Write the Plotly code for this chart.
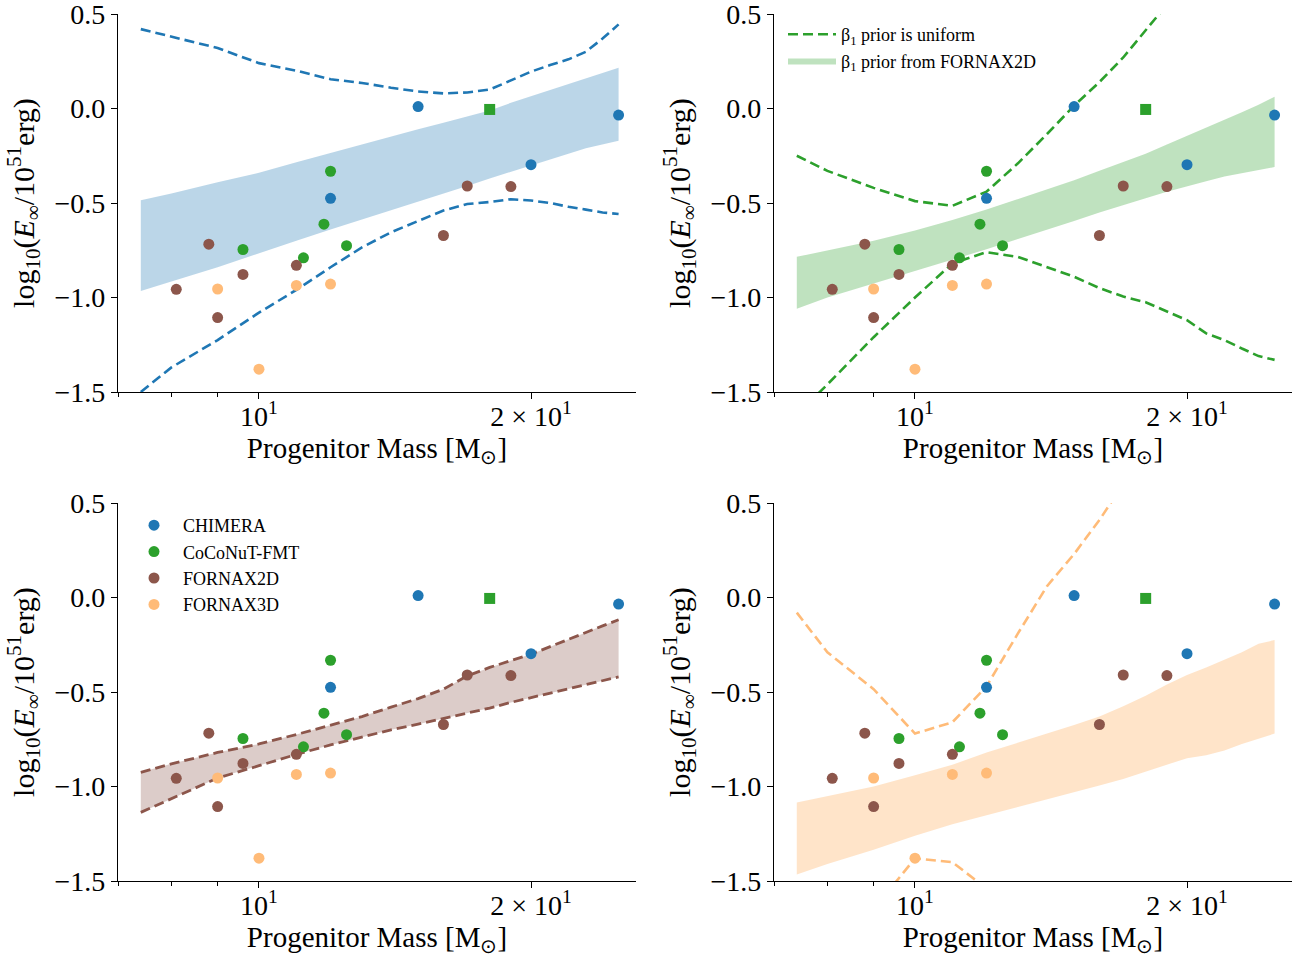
import plotly.graph_objects as go
from plotly.subplots import make_subplots

# ---------------- data ----------------
grid_mass = [7.4, 8, 9, 10, 11, 12, 13, 14, 15, 16, 17, 18, 19, 20, 21, 22, 23, 24, 25]

chimera_m = [12.0, 15.0, 20.0, 25.0]
chimera_e = [-0.475, 0.01, -0.297, -0.035]
coconut_m = [9.6, 11.2, 11.8, 12.0, 12.5]
coconut_e = [-0.746, -0.79, -0.612, -0.332, -0.726]
coconut_sq_m = [18.0]
coconut_sq_e = [-0.005]
fornax2d_m = [8.1, 8.8, 9.0, 9.6, 11.0, 16.0, 17.0, 19.0]
fornax2d_e = [-0.957, -0.718, -1.106, -0.878, -0.83, -0.672, -0.41, -0.413]
fornax3d_m = [9.0, 10.0, 11.0, 12.0]
fornax3d_e = [-0.955, -1.379, -0.936, -0.929]

# panel 1 (CHIMERA)
p1_band_hi = [-0.485, -0.45, -0.39, -0.34, -0.285, -0.235, -0.19, -0.15, -0.11, -0.075, -0.04, -0.01, 0.03, 0.065, 0.10, 0.13, 0.16, 0.19, 0.215]
p1_band_lo = [-0.965, -0.915, -0.84, -0.765, -0.70, -0.64, -0.585, -0.535, -0.49, -0.45, -0.41, -0.37, -0.335, -0.30, -0.27, -0.24, -0.21, -0.19, -0.17]
p1_unif_hi = [0.42, 0.38, 0.32, 0.24, 0.20, 0.155, 0.135, 0.11, 0.09, 0.08, 0.085, 0.10, 0.15, 0.195, 0.23, 0.26, 0.30, 0.37, 0.445]
p1_unif_lo = [-1.50, -1.37, -1.225, -1.08, -0.96, -0.84, -0.735, -0.655, -0.595, -0.54, -0.505, -0.495, -0.48, -0.487, -0.50, -0.52, -0.535, -0.55, -0.558]

# panel 2 (CoCoNuT-FMT)
p2_band_hi = [-0.785, -0.75, -0.70, -0.645, -0.59, -0.535, -0.48, -0.43, -0.38, -0.33, -0.285, -0.24, -0.19, -0.145, -0.10, -0.06, -0.02, 0.02, 0.062]
p2_band_lo = [-1.06, -1.0, -0.925, -0.86, -0.80, -0.745, -0.69, -0.64, -0.595, -0.55, -0.51, -0.475, -0.44, -0.41, -0.385, -0.36, -0.34, -0.325, -0.31]
p2_unif_hi = [-0.25, -0.33, -0.42, -0.49, -0.515, -0.44, -0.29, -0.135, 0.015, 0.14, 0.27, 0.41, 0.55, 0.69, 0.83, 0.97, 1.10, 1.25, 1.40]
p2_unif_lo = [-1.62, -1.46, -1.21, -1.0, -0.82, -0.76, -0.785, -0.84, -0.89, -0.95, -0.995, -1.025, -1.075, -1.12, -1.19, -1.225, -1.27, -1.31, -1.33]

# panel 3 (FORNAX2D)
p3_band_hi = [-0.925, -0.88, -0.82, -0.775, -0.725, -0.675, -0.63, -0.58, -0.535, -0.485, -0.415, -0.37, -0.335, -0.30, -0.26, -0.22, -0.185, -0.15, -0.118]
p3_band_lo = [-1.137, -1.065, -0.955, -0.89, -0.83, -0.78, -0.74, -0.70, -0.67, -0.64, -0.61, -0.585, -0.555, -0.53, -0.505, -0.48, -0.46, -0.44, -0.42]

# panel 4 (FORNAX3D)
p4_band_hi = [-1.085, -1.05, -1.0, -0.94, -0.885, -0.82, -0.77, -0.72, -0.675, -0.63, -0.575, -0.52, -0.46, -0.41, -0.37, -0.33, -0.29, -0.245, -0.225]
p4_band_lo = [-1.465, -1.41, -1.335, -1.26, -1.20, -1.15, -1.11, -1.07, -1.03, -0.995, -0.96, -0.92, -0.885, -0.85, -0.835, -0.81, -0.775, -0.745, -0.72]
p4_unif_hi = [-0.08, -0.29, -0.485, -0.72, -0.66, -0.47, -0.19, 0.06, 0.23, 0.41, 0.60, 0.80, 1.0, 1.2, 1.4, 1.6, 1.8, 2.0, 2.2]
p4_unif_lo = [-2.5, -2.1, -1.65, -1.38, -1.40, -1.54, -1.75, -2.0, -2.2, -2.4, -2.6, -2.8, -3.0, -3.2, -3.4, -3.6, -3.8, -4.0, -4.2]

y_tickvals = [-1.5, -1.0, -0.5, 0.0, 0.5]
y_ticktext = ["\u22121.5", "\u22121.0", "\u22120.5", "0.0", "0.5"]
x_tickvals = [10, 20]
x_ticktext = ["10<sup>1</sup>", "2 \u00d7 10<sup>1</sup>"]
x_minor = [7, 8, 9]

C_BLUE = "#1f77b4"
C_GREEN = "#2ca02c"
C_BROWN = "#8c564b"
C_ORANGE = "#ffbb78"

FONT = "Liberation Serif"
DASH = "10px,5px"

fig = make_subplots(rows=2, cols=2)


def band(row, col, hi, lo, fill, name=None, legend=None):
    fig.add_trace(go.Scatter(
        x=grid_mass + grid_mass[::-1], y=hi + lo[::-1], mode="lines",
        fill="toself", fillcolor=fill, line=dict(width=0),
        name=name or "", showlegend=name is not None, legend=legend,
        hoverinfo="skip"), row=row, col=col)


def dashed(row, col, y, color, width=2.6, name=None, legend=None):
    fig.add_trace(go.Scatter(
        x=grid_mass, y=y, mode="lines",
        line=dict(color=color, width=width, dash=DASH),
        name=name or "", showlegend=name is not None, legend=legend,
        hoverinfo="skip"), row=row, col=col)


def points(row, col, show):
    for m, e, c, n in [(chimera_m, chimera_e, C_BLUE, "CHIMERA"),
                       (coconut_m, coconut_e, C_GREEN, "CoCoNuT-FMT"),
                       (fornax2d_m, fornax2d_e, C_BROWN, "FORNAX2D"),
                       (fornax3d_m, fornax3d_e, C_ORANGE, "FORNAX3D")]:
        fig.add_trace(go.Scatter(
            x=m, y=e, mode="markers", name=n,
            marker=dict(color=c, size=11, line=dict(width=0)),
            showlegend=show, legend="legend2"), row=row, col=col)
    fig.add_trace(go.Scatter(
        x=coconut_sq_m, y=coconut_sq_e, mode="markers", name="CoCoNuT 3D",
        marker=dict(color=C_GREEN, size=11, symbol="square", line=dict(width=0)),
        showlegend=False), row=row, col=col)


# panel 1
band(1, 1, p1_band_hi, p1_band_lo, "rgba(31,119,180,0.3)")
dashed(1, 1, p1_unif_hi, C_BLUE)
dashed(1, 1, p1_unif_lo, C_BLUE)
points(1, 1, False)

# panel 2
dashed(1, 2, p2_unif_hi, C_GREEN, name="\u03b2<sub>1</sub> prior is uniform", legend="legend")
band(1, 2, p2_band_hi, p2_band_lo, "rgba(44,160,44,0.3)",
     name="\u03b2<sub>1</sub> prior from FORNAX2D", legend="legend")
dashed(1, 2, p2_unif_lo, C_GREEN)
points(1, 2, False)

# panel 3
band(2, 1, p3_band_hi, p3_band_lo, "rgba(140,86,75,0.3)")
dashed(2, 1, p3_band_hi, C_BROWN, width=2.8)
dashed(2, 1, p3_band_lo, C_BROWN, width=2.8)
points(2, 1, True)

# panel 4
band(2, 2, p4_band_hi, p4_band_lo, "rgba(255,187,120,0.4)")
dashed(2, 2, p4_unif_hi, C_ORANGE)
dashed(2, 2, p4_unif_lo, C_ORANGE)
points(2, 2, False)

W, H = 1307, 958
xdom = [[118 / W, 636 / W], [774 / W, 1292 / W]]
ydom = [[1 - 392 / H, 1 - 14 / H], [1 - 881 / H, 1 - 503 / H]]

axis_common = dict(showline=True, linecolor="black", linewidth=1.2, mirror=False,
                   ticks="outside", ticklen=6, tickwidth=1.2, tickcolor="black",
                   showgrid=False, zeroline=False, automargin=False,
                   ticklabeloverflow="allow",
                   tickfont=dict(family=FONT, size=28, color="black"))

for r in (1, 2):
    for c in (1, 2):
        fig.update_xaxes(
            type="log", range=[0.844, 1.4172], domain=xdom[c - 1],
            tickvals=x_tickvals, ticktext=x_ticktext, ticklabelstandoff=-7,
            minor=dict(tickvals=x_minor, ticklen=3.5, tickwidth=1, tickcolor="black", ticks="outside", showgrid=False),
            title=dict(text="Progenitor Mass [M<sub>\u2299</sub>]",
                       font=dict(family=FONT, size=29, color="black"), standoff=0),
            row=r, col=c, **axis_common)
        fig.update_yaxes(
            range=[-1.5, 0.5], domain=ydom[r - 1],
            tickvals=y_tickvals, ticktext=y_ticktext,
            title=dict(text="log<sub>10</sub>(<i>E</i><sub>\u221e</sub>/10<sup>51</sup>erg)",
                       font=dict(family=FONT, size=30, color="black"), standoff=11),
            row=r, col=c, **axis_common)

fig.update_layout(
    width=W, height=H,
    margin=dict(l=0, r=0, t=0, b=0),
    paper_bgcolor="white", plot_bgcolor="white",
    font=dict(family=FONT, color="black"),
    legend=dict(x=783 / W, y=1 - 16 / H, xanchor="left", yanchor="top", itemwidth=48,
                bgcolor="rgba(0,0,0,0)", font=dict(family=FONT, size=18, color="black")),
    legend2=dict(x=125 / W, y=1 - 507 / H, xanchor="left", yanchor="top", itemwidth=48,
                 bgcolor="rgba(0,0,0,0)", font=dict(family=FONT, size=18, color="black")),
)

fig.write_html("out.html")
